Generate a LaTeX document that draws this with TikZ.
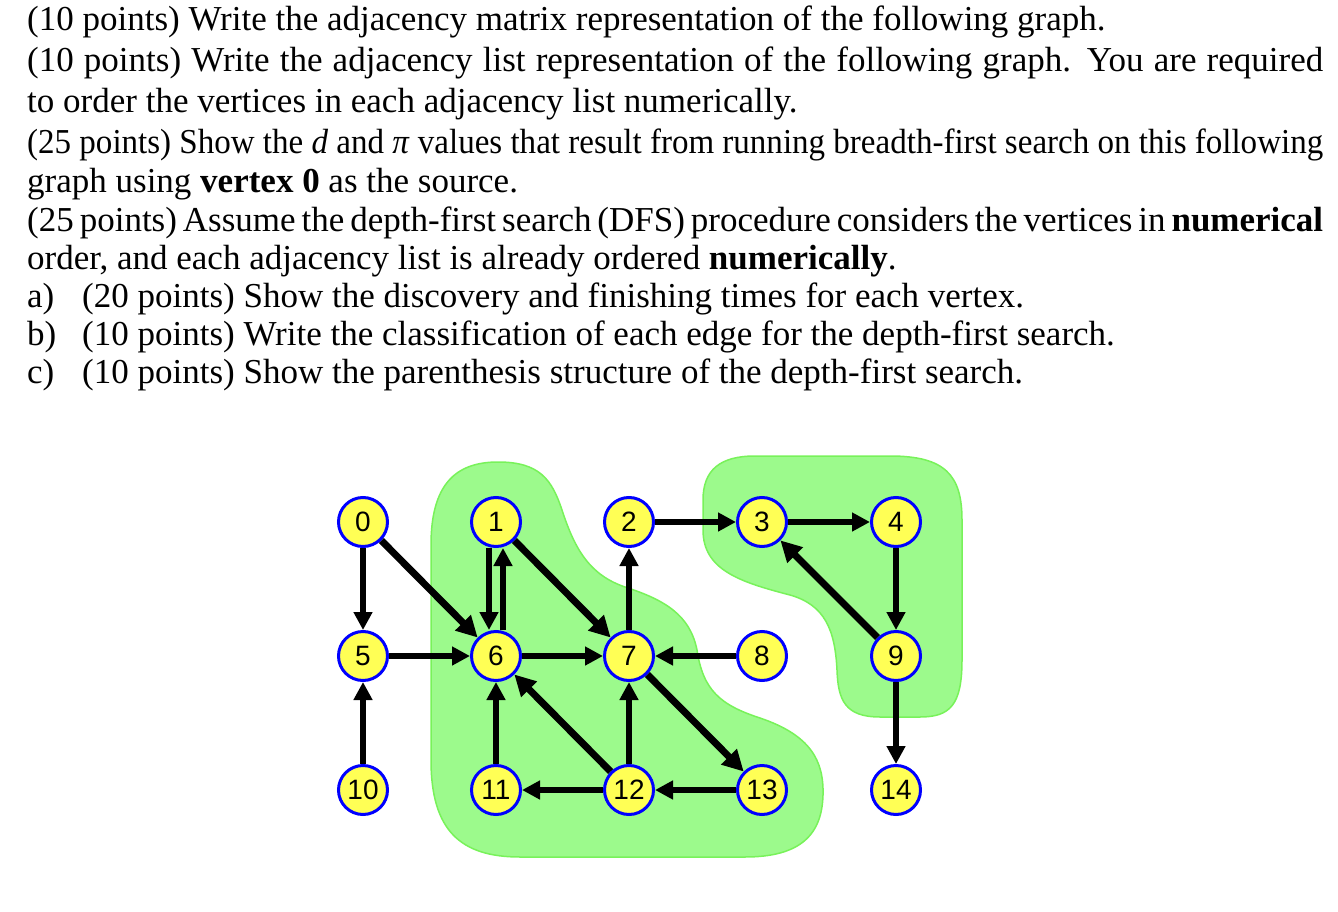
\documentclass[tikz,border=0pt]{standalone}
\usepackage{fontspec}
\usepackage{graphicx}
\setmainfont{Liberation Serif}
\newfontfamily\sansf{Liberation Sans}
\usetikzlibrary{arrows.meta}
\definecolor{blobfill}{RGB}{156,250,140}
\definecolor{blobline}{RGB}{120,242,90}
\definecolor{nodey}{RGB}{255,255,85}
\definecolor{nodeb}{RGB}{0,0,255}
\pgfdeclarelayer{blob}
\pgfdeclarelayer{edges}
\pgfsetlayers{blob,edges,main}
\tikzset{
  txt/.style={anchor=base west, inner sep=0pt, font=\fontsize{35}{41}\selectfont},
  vtx/.style={circle, draw=nodeb, fill=nodey, line width=3pt, minimum size=49pt, inner sep=0pt,
    font=\sansf\fontsize{28}{28}\selectfont},
  ed/.style={line width=5.5pt, -{Triangle[length=18pt,width=18pt]}},
  dg/.style={line width=7pt, -{Triangle[length=21pt,width=21pt]}},
  blobsty/.style={fill=blobfill, draw=blobline, line width=1.5pt}
}
\begin{document}
\begin{tikzpicture}[x=1pt,y=-1pt]
\useasboundingbox (0,0) rectangle (1338,912);
% text
\node[txt] (t1) at (27,31) {(10 points) Write the adjacency matrix representation of the following graph.};
\node[txt] (t2) at (27,72) {\makebox[1296pt][s]{(10 points) Write the adjacency list representation of the following graph. You are required}};
\node[txt] (t3) at (27,113) {to order the vertices in each adjacency list numerically.};
\node[txt] (t4) at (27,154) {\resizebox{1296pt}{\height}{(25 points) Show the \textit{d} and \textit{π} values that result from running breadth-first search on this following}};
\node[txt] (t5) at (27,193) {graph using \textbf{vertex 0} as the source.};
\node[txt] (t6) at (27,231) {\makebox[1296pt][s]{(25 points) Assume the depth-first search (DFS) procedure considers the vertices in \textbf{numerical}}};
\node[txt] (t7) at (27,269) {order, and each adjacency list is already ordered \textbf{numerically}.};
\node[txt] (a8) at (27,307) {a)};
\node[txt] (t8) at (82,307) {(20 points) Show the discovery and finishing times for each vertex.};
\node[txt] (a9) at (27,345) {b)};
\node[txt] (t9) at (82,345) {(10 points) Write the classification of each edge for the depth-first search.};
\node[txt] (a10) at (27,383) {c)};
\node[txt] (t10) at (82,383) {(10 points) Show the parenthesis structure of the depth-first search.};
% blobs
\begin{pgfonlayer}{blob}
\path[blobsty] (431,760) -- (431,545)
  .. controls (431,485) and (455,462) .. (498,462)
  .. controls (540,462) and (552,480) .. (562,510)
  .. controls (575,550) and (590,575) .. (625,587)
  .. controls (665,600) and (690,615) .. (697,650)
  .. controls (703,690) and (720,705) .. (760,718)
  .. controls (810,735) and (824,760) .. (823,795)
  .. controls (822,835) and (800,857) .. (745,857)
  -- (520,857)
  .. controls (460,857) and (431,830) .. (431,760) -- cycle;
\path[blobsty] (703,530) -- (703,500)
  .. controls (703,470) and (720,456) .. (755,456)
  -- (890,456)
  .. controls (945,456) and (962,475) .. (962,520)
  -- (962,660)
  .. controls (962,705) and (950,717) .. (920,717)
  -- (880,717)
  .. controls (845,717) and (838,700) .. (837,670)
  .. controls (835,630) and (825,605) .. (790,595)
  .. controls (740,582) and (703,570) .. (703,530) -- cycle;
\end{pgfonlayer}
% vertices
\node[vtx] (v0) at (363,522) {0};
\node[vtx] (v1) at (496,522) {1};
\node[vtx] (v2) at (629,522) {2};
\node[vtx] (v3) at (762,522) {3};
\node[vtx] (v4) at (896,522) {4};
\node[vtx] (v5) at (363,656) {5};
\node[vtx] (v6) at (496,656) {6};
\node[vtx] (v7) at (629,656) {7};
\node[vtx] (v8) at (762,656) {8};
\node[vtx] (v9) at (896,656) {9};
\node[vtx] (v10) at (363,790) {10};
\node[vtx] (v11) at (496,790) {11};
\node[vtx] (v12) at (629,790) {12};
\node[vtx] (v13) at (762,790) {13};
\node[vtx] (v14) at (896,790) {14};
% edges
\begin{pgfonlayer}{edges}
\draw[ed] (v0) -- (v5);
\draw[dg] (v0) -- (v6);
\draw[ed] ([xshift=-7pt]v1.south) -- ([xshift=-7pt]v6.north);
\draw[ed] ([xshift=7pt]v6.north) -- ([xshift=7pt]v1.south);
\draw[dg] (v1) -- (v7);
\draw[ed] (v2) -- (v3);
\draw[ed] (v3) -- (v4);
\draw[ed] (v4) -- (v9);
\draw[dg] (v9) -- (v3);
\draw[ed] (v5) -- (v6);
\draw[ed] (v6) -- (v7);
\draw[ed] (v7) -- (v2);
\draw[ed] (v8) -- (v7);
\draw[ed] (v9) -- (v14);
\draw[ed] (v10) -- (v5);
\draw[ed] (v11) -- (v6);
\draw[dg] (v12) -- (v6);
\draw[ed] (v12) -- (v7);
\draw[ed] (v12) -- (v11);
\draw[ed] (v13) -- (v12);
\draw[dg] (v7) -- (v13);
\end{pgfonlayer}
\end{tikzpicture}
\end{document}
